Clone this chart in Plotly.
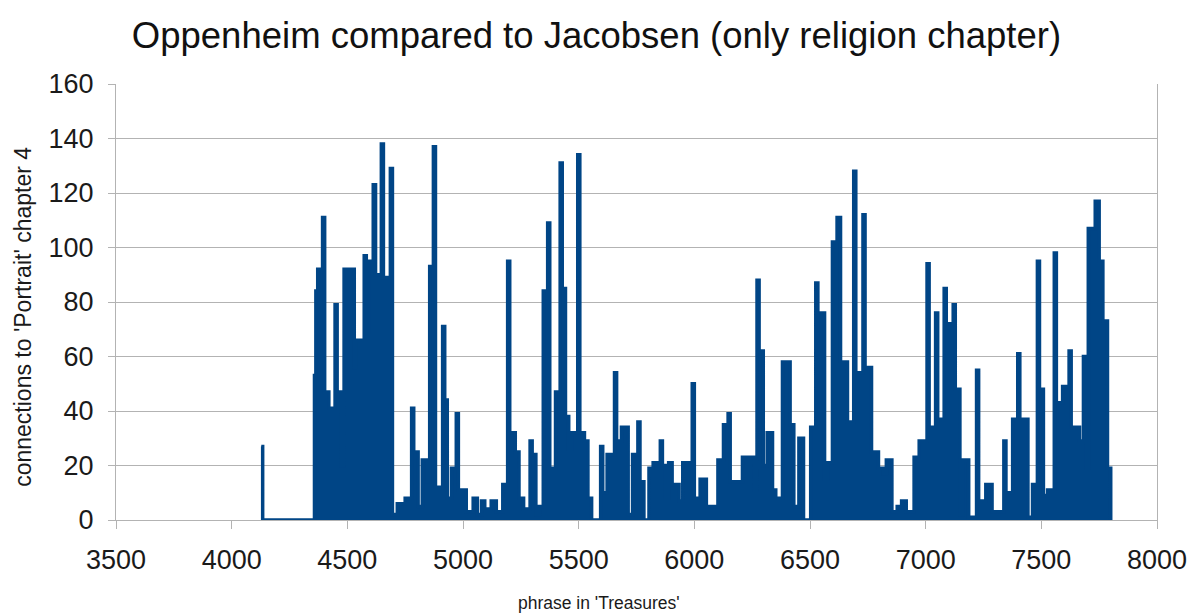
import plotly.graph_objects as go

# phrase number in 'Treasures' where each level starts (step data)
phrase = [
    4128, 4134, 4358, 4364, 4372, 4393, 4402, 4420, 4447, 4456, 4474, 4486, 4530, 4538,
    4573, 4582, 4594, 4612, 4622, 4647, 4656, 4686, 4695, 4716, 4750, 4778, 4787, 4806,
    4824, 4846, 4856, 4872, 4881, 4912, 4921, 4932, 4950, 4971, 4980, 5014, 5044, 5062,
    5080, 5094, 5122, 5144, 5172, 5193, 5202, 5226, 5242, 5262, 5290, 5299, 5315, 5330,
    5347, 5366, 5375, 5400, 5420, 5429, 5443, 5457, 5472, 5496, 5505, 5525, 5540, 5556,
    5595, 5604, 5623, 5655, 5664, 5685, 5714, 5733, 5756, 5765, 5782, 5804, 5822, 5853,
    5862, 5876, 5889, 5904, 5934, 5950, 5991, 6000, 6025, 6052, 6102, 6126, 6146, 6155,
    6208, 6258, 6271, 6280, 6298, 6315, 6338, 6352, 6381, 6414, 6430, 6452, 6472, 6503,
    6525, 6534, 6563, 6578, 6597, 6617, 6632, 6662, 6689, 6698, 6729, 6738, 6766, 6796,
    6816, 6830, 6854, 6877, 6896, 6916, 6950, 6972, 7006, 7015, 7043, 7052, 7080, 7089,
    7119, 7128, 7148, 7162, 7186, 7220, 7229, 7260, 7287, 7338, 7347, 7376, 7398, 7407,
    7442, 7462, 7483, 7492, 7509, 7527, 7556, 7565, 7592, 7620, 7629, 7665, 7682, 7693,
    7703, 7733, 7750, 7766, 7786, 7800,
]

# connections to 'Portrait' chapter 4
connections = [
    27, 0, 53, 84, 92, 111, 47, 41, 79, 47, 20, 92, 56, 66,
    97, 69, 95, 123, 90, 138, 89, 129, 2, 6, 8, 41, 25, 5,
    22, 14, 93, 137, 12, 71, 44, 8, 19, 39, 11, 3, 8, 2,
    7, 4, 7, 3, 13, 95, 32, 25, 8, 4, 29, 24, 2, 5,
    84, 109, 19, 47, 131, 85, 38, 26, 32, 134, 32, 29, 8, 0,
    27, 10, 24, 54, 29, 34, 2, 24, 36, 14, 0, 19, 21, 29,
    20, 8, 21, 13, 7, 21, 50, 8, 15, 5, 22, 35, 39, 14,
    23, 11, 88, 62, 20, 32, 11, 8, 58, 35, 5, 30, 0, 34,
    87, 76, 15, 21, 102, 111, 58, 36, 128, 54, 112, 56, 25, 19,
    17, 22, 3, 5, 7, 3, 23, 29, 94, 34, 76, 37, 85, 72,
    79, 48, 2, 22, 1, 55, 7, 13, 3, 29, 10, 37, 61, 37,
    1, 13, 95, 48, 9, 11, 98, 43, 49, 62, 34, 29, 60, 19,
    107, 117, 95, 73, 19, 0,
]

x_ticks = [3500, 4000, 4500, 5000, 5500, 6000, 6500, 7000, 7500, 8000]
y_ticks = [0, 20, 40, 60, 80, 100, 120, 140, 160]

title_text = "Oppenheim compared to Jacobsen (only religion chapter)"
x_title = "phrase in 'Treasures'"
y_title = "connections to 'Portrait' chapter 4"

BLUE = "#004586"
GRID = "#b3b3b3"
TEXT = "#1a1a1a"
FONT = "Liberation Sans, Arial, sans-serif"

fig = go.Figure()
fig.add_trace(go.Scatter(
    x=phrase, y=connections, mode="lines",
    line=dict(color=BLUE, width=3.5, shape="hv"),
    fill="tozeroy", fillcolor=BLUE,
    showlegend=False, hoverinfo="x+y",
))

fig.update_layout(
    width=1198, height=615,
    margin=dict(l=108, r=49, t=76, b=103),
    paper_bgcolor="white", plot_bgcolor="white",
    font=dict(family=FONT, color=TEXT),
    title=dict(text=title_text, x=0.4912, xanchor="center", y=0.955, yanchor="middle",
               font=dict(size=36.5, color="#111111", family=FONT)),
    annotations=[
        dict(text=x_title, xref="paper", yref="paper", x=0.464, y=-0.19,
             xanchor="center", yanchor="middle", showarrow=False,
             font=dict(size=17.5, color=TEXT, family=FONT)),
        dict(text=y_title, xref="paper", yref="paper", x=-0.0895, y=0.4656,
             xanchor="center", yanchor="middle", showarrow=False, textangle=-90,
             borderpad=0,
             font=dict(size=23, color=TEXT, family=FONT)),
    ],
)

fig.update_xaxes(
    range=[3500, 8000], tickvals=x_ticks, ticktext=[str(v) for v in x_ticks],
    showgrid=False, zeroline=False,
    showline=True, linecolor=GRID, linewidth=1,
    ticks="outside", ticklen=8, tickcolor=GRID,
    tickfont=dict(size=27, color=TEXT), ticklabelstandoff=8,
)
fig.update_yaxes(
    range=[0, 160], tickvals=y_ticks, ticktext=[str(v) for v in y_ticks],
    showgrid=True, gridcolor=GRID, gridwidth=1, zeroline=False,
    showline=True, linecolor=GRID, linewidth=1, mirror=True,
    ticks="outside", ticklen=7, tickcolor=GRID,
    tickfont=dict(size=27, color=TEXT), ticklabelstandoff=9,
)

fig.write_html("out.html")
